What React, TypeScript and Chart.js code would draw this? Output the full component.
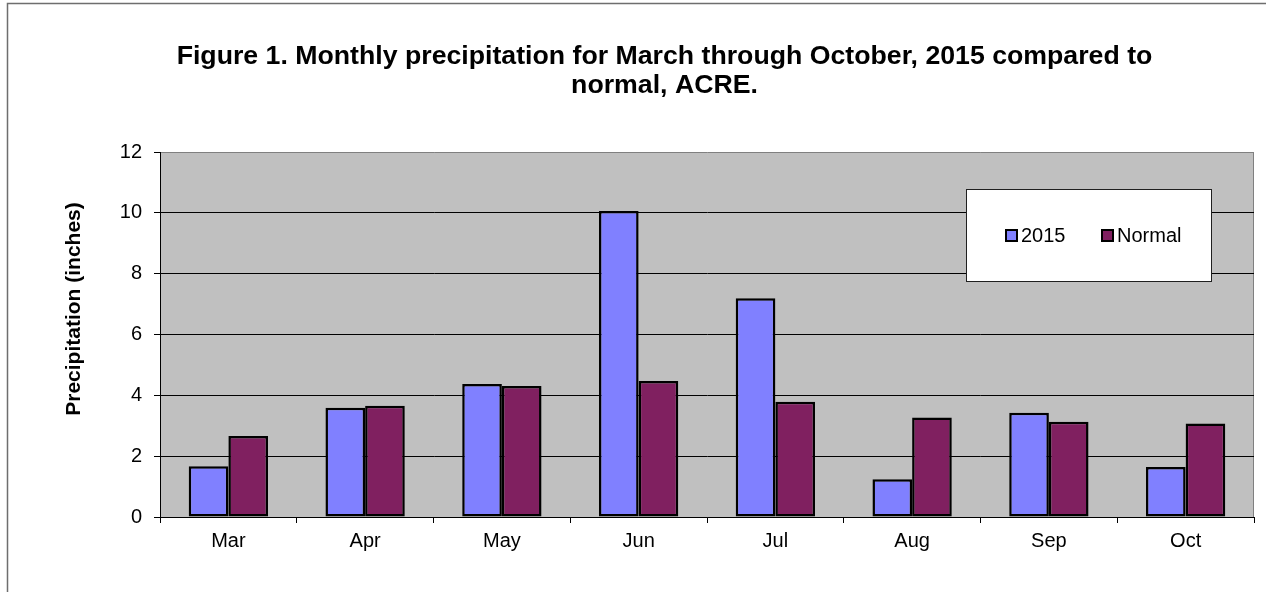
import React, { useEffect, useRef } from "react";
import { Chart, registerables } from "chart.js";

Chart.register(...registerables);

const months = ["Mar", "Apr", "May", "Jun", "Jul", "Aug", "Sep", "Oct"];
const precip2015 = [1.67, 3.59, 4.37, 10.06, 7.19, 1.24, 3.43, 1.64];
const precipNormal = [2.66, 3.66, 4.31, 4.47, 3.79, 3.27, 3.13, 3.07];
const seriesLabels = ["2015", "Normal"];
const seriesColors = ["#8080FF", "#802060"];
const yTicks = [0, 2, 4, 6, 8, 10, 12];
const titleLines = [
  "Figure 1. Monthly precipitation for March through October, 2015 compared to",
  "normal, ACRE.",
];
const yAxisTitle = "Precipitation (inches)";

const FONT = "'Liberation Sans', Arial, Helvetica, sans-serif";

const decorPlugin = {
  id: "decor",
  beforeDraw(chart: any) {
    const { ctx, chartArea: a, width, height } = chart;
    ctx.save();
    ctx.fillStyle = "#ffffff";
    ctx.fillRect(0, 0, width, height);
    ctx.fillStyle = "#C0C0C0";
    ctx.fillRect(a.left, a.top, a.right - a.left, a.bottom - a.top);
    // outer frame
    ctx.strokeStyle = "#6e6e6e";
    ctx.lineWidth = 1.5;
    ctx.beginPath();
    ctx.moveTo(7.5, height);
    ctx.lineTo(7.5, 3.5);
    ctx.lineTo(width, 3.5);
    ctx.stroke();
    // right plot border
    ctx.strokeStyle = "#808080";
    ctx.lineWidth = 1;
    ctx.beginPath();
    ctx.moveTo(a.right - 0.5, a.top);
    ctx.lineTo(a.right - 0.5, a.bottom);
    ctx.stroke();
    // chart title
    ctx.fillStyle = "#000";
    ctx.font = `bold 26.7px ${FONT}`;
    ctx.textAlign = "center";
    ctx.textBaseline = "alphabetic";
    titleLines.forEach((line, i) => {
      ctx.fillText(line, 664.5, 63.5 + i * 29);
    });
    ctx.restore();
  },
  afterDraw(chart: any) {
    const { ctx, chartArea: a } = chart;
    ctx.save();
    // y axis title
    ctx.translate(74.5, 309);
    ctx.rotate(-Math.PI / 2);
    ctx.font = `bold 21px ${FONT}`;
    ctx.fillStyle = "#000";
    ctx.textAlign = "center";
    ctx.textBaseline = "middle";
    ctx.fillText(yAxisTitle, 0, 0);
    ctx.restore();

    // legend box
    ctx.save();
    const bx = a.right - 288;
    const by = a.top + 37;
    const bw = 246;
    const bh = 93;
    ctx.fillStyle = "#fff";
    ctx.fillRect(bx, by, bw, bh);
    ctx.strokeStyle = "#202020";
    ctx.lineWidth = 1;
    ctx.strokeRect(bx + 0.5, by + 0.5, bw - 1, bh - 1);
    const offsets = [40, 136];
    ctx.font = `20px ${FONT}`;
    ctx.textBaseline = "middle";
    ctx.textAlign = "left";
    chart.data.datasets.forEach((ds: any, i: number) => {
      const mx = bx + offsets[i];
      const my = by + 41;
      ctx.fillStyle = ds.backgroundColor;
      ctx.fillRect(mx, my, 11, 11);
      ctx.strokeStyle = "#000";
      ctx.lineWidth = 2;
      ctx.strokeRect(mx, my, 11, 11);
      ctx.fillStyle = "#000";
      ctx.fillText(ds.label, mx + 15, my + 6);
    });
    ctx.restore();
  },
};

export default function App() {
  const canvasRef = useRef<HTMLCanvasElement | null>(null);

  useEffect(() => {
    const canvas = canvasRef.current;
    if (!canvas) return;
    const chart = new Chart(canvas, {
      type: "bar",
      data: {
        labels: months,
        datasets: [
          {
            label: seriesLabels[0],
            data: precip2015,
            backgroundColor: seriesColors[0],
            borderColor: "#000",
            borderWidth: 2.5,
            borderSkipped: false,
          },
          {
            label: seriesLabels[1],
            data: precipNormal,
            backgroundColor: seriesColors[1],
            borderColor: "#000",
            borderWidth: 2.5,
            borderSkipped: false,
          },
        ],
      },
      options: {
        responsive: false,
        animation: false,
        maintainAspectRatio: false,
        datasets: {
          bar: { categoryPercentage: 0.58, barPercentage: 1.0 },
        },
        layout: { padding: { left: 0, right: 12, top: 152, bottom: 0 } },
        plugins: {
          legend: { display: false },
          tooltip: { enabled: false },
          title: { display: false },
        },
        scales: {
          x: {
            grid: {
              drawOnChartArea: false,
              offset: true,
              tickLength: 6,
              color: "#000",
            },
            border: { color: "#000", width: 1 },
            ticks: { font: { family: FONT, size: 20 }, color: "#000", padding: 6 },
            afterFit: (s: any) => {
              s.height = 75;
            },
          },
          y: {
            min: 0,
            max: 12,
            afterBuildTicks: (s: any) => {
              s.ticks = yTicks.map((v) => ({ value: v }));
            },
            ticks: { font: { family: FONT, size: 20 }, color: "#000", padding: 12 },
            grid: {
              color: (c: any) => (c.tick && c.tick.value === 12 ? "#808080" : "#000"),
              tickColor: "#000",
              tickLength: 6,
            },
            border: { color: "#000", width: 1 },
            afterFit: (s: any) => {
              s.width = 160;
            },
          },
        },
      },
      plugins: [decorPlugin],
    });
    return () => chart.destroy();
  }, []);

  return (
    <div style={{ position: "fixed", left: 0, top: 0, width: 1266, height: 592, background: "#fff" }}>
      <canvas ref={canvasRef} width={1266} height={592} style={{ width: 1266, height: 592, display: "block" }} />
    </div>
  );
}
